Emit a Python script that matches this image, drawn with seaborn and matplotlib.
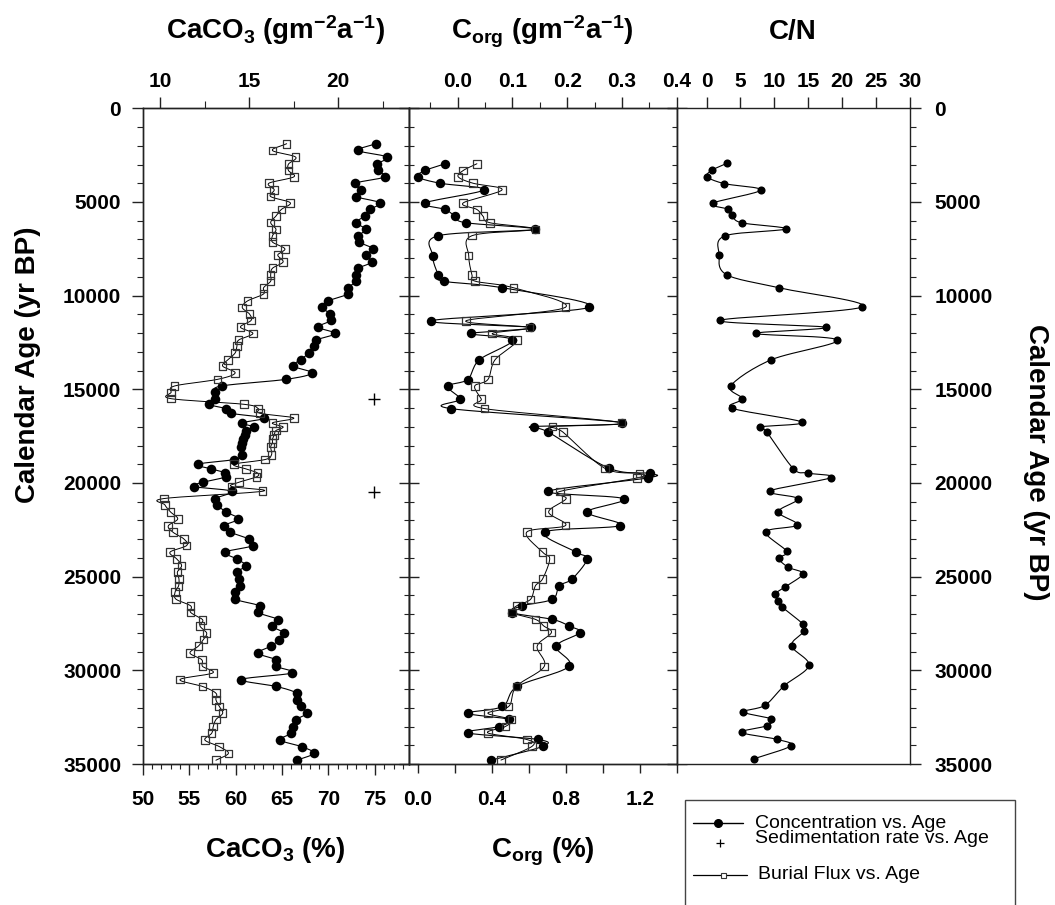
import numpy as np
import pandas as pd
import matplotlib
matplotlib.use("Agg")
import matplotlib.pyplot as plt
import seaborn as sns
from matplotlib.ticker import FixedLocator, MultipleLocator, FormatStrFormatter
from matplotlib.lines import Line2D
from matplotlib.patches import Rectangle

# ==============================
# DATA
# ==============================

# CaCO3 core samples: age (yr BP), concentration (%), burial flux (g m-2 a-1)
caco3_age = [1890, 2250, 2600, 2980, 3320, 3660, 4000, 4350, 4710, 5040,
             5400, 5750, 6100, 6460, 6810, 7140, 7500, 7830, 8200, 8540,
             8900, 9230, 9580, 9910, 10280, 10630, 10970, 11320, 11680, 12020,
             12370, 12700, 13060, 13420, 13760, 14130, 14470, 14820, 15160, 15500,
             15800, 16030, 16280, 16530, 16790, 17010, 17200, 17430, 17650, 17860,
             18080, 18490, 18750, 19000, 19250, 19460, 19670, 19960, 20190, 20440,
             20830, 21170, 21550, 21920, 22290, 22620, 22990, 23340, 23690, 24050,
             24410, 24760, 25120, 25490, 25830, 26200, 26560, 26910, 27300, 27630,
             28010, 28360, 28710, 29080, 29430, 29790, 30140, 30490, 30860, 31220,
             31570, 31930, 32290, 32630, 33000, 33360, 33720, 34070, 34430, 34800]
caco3_pct = [75.1, 73.2, 76.3, 75.2, 75.3, 76.1, 72.9, 73.5, 73.0, 75.5,
             74.5, 73.9, 73.0, 74.0, 73.2, 73.3, 74.8, 74.0, 74.7, 73.2,
             73.0, 73.0, 72.1, 72.1, 70.0, 69.3, 70.2, 70.3, 68.9, 70.7,
             68.7, 68.4, 67.9, 67.0, 66.2, 68.2, 65.4, 58.5, 57.8, 57.8,
             57.1, 59.0, 59.5, 63.1, 60.7, 62.0, 61.1, 61.0, 60.8, 60.7,
             60.6, 60.7, 59.8, 55.9, 57.4, 58.9, 59.0, 56.5, 55.5, 59.6,
             57.8, 58.0, 59.0, 60.3, 58.7, 59.4, 61.4, 61.9, 58.9, 60.1,
             61.1, 60.1, 60.4, 60.5, 59.9, 59.9, 62.6, 62.4, 64.6, 63.9,
             65.2, 64.7, 63.8, 62.4, 64.3, 64.4, 66.1, 60.6, 64.4, 66.6,
             66.6, 67.0, 67.7, 66.5, 66.2, 66.0, 64.8, 67.1, 68.4, 66.6]
caco3_flux = [17.1, 16.3, 17.6, 17.2, 17.2, 17.5, 16.1, 16.4, 16.2, 17.3,
              16.8, 16.5, 16.2, 16.5, 16.3, 16.3, 17.0, 16.6, 16.9, 16.3,
              16.2, 16.2, 15.8, 15.8, 14.9, 14.6, 15.0, 15.1, 14.5, 15.2,
              14.4, 14.3, 14.2, 13.8, 13.5, 14.2, 13.2, 10.8, 10.6, 10.6,
              14.7, 15.5, 15.6, 17.5, 16.3, 16.9, 16.5, 16.4, 16.3, 16.3,
              16.2, 16.25, 15.88, 14.14, 14.81, 15.45, 15.41, 14.42, 14.0, 15.75,
              10.2, 10.25, 10.57, 10.97, 10.44, 10.69, 11.32, 11.47, 10.54, 10.91,
              11.19, 10.95, 11.04, 11.02, 10.82, 10.87, 11.7, 11.7, 12.37, 12.22,
              12.6, 12.41, 12.13, 11.66, 12.32, 12.37, 12.94, 11.1, 12.37, 13.12,
              13.12, 13.31, 13.5, 13.12, 12.97, 12.88, 12.5, 13.31, 13.82, 13.12]

# Sedimentation rate change points
sed_age = [15500, 20500]
sed_rate = [22.0, 22.0]

# Organic carbon: age, concentration (%), burial flux (g m-2 a-1)
corg_age = [2960, 3320, 3660, 4000, 4350, 5050, 5400, 5750, 6110, 6460,
            6800, 7860, 8890, 9230, 9580, 10620, 11340, 11700, 12020, 12370,
            13430, 14480, 14830, 15520, 16030, 16780, 16990, 17280, 19220, 19490,
            19730, 20450, 20840, 21550, 22270, 22620, 23690, 24050, 25120, 25480,
            26210, 26550, 26920, 27280, 27630, 27990, 28720, 29790, 30860, 31930,
            32290, 32620, 33000, 33340, 33690, 34050, 34790]
corg_pct = [0.148, 0.040, 0.000, 0.120, 0.358, 0.039, 0.148, 0.200, 0.260, 0.632,
            0.111, 0.080, 0.111, 0.139, 0.457, 0.928, 0.071, 0.614, 0.290, 0.511,
            0.332, 0.269, 0.161, 0.229, 0.179, 1.104, 0.628, 0.705, 1.036, 1.253,
            1.244, 0.705, 1.113, 0.916, 1.095, 0.687, 0.856, 0.916, 0.835, 0.766,
            0.727, 0.565, 0.511, 0.727, 0.817, 0.876, 0.748, 0.817, 0.538, 0.457,
            0.269, 0.493, 0.439, 0.269, 0.650, 0.678, 0.398]
corg_flux = [0.035, 0.010, 0.001, 0.028, 0.081, 0.010, 0.035, 0.046, 0.059, 0.142,
             0.026, 0.020, 0.026, 0.032, 0.102, 0.197, 0.015, 0.131, 0.063, 0.108,
             0.068, 0.055, 0.031, 0.043, 0.049, 0.299, 0.173, 0.192, 0.269, 0.332,
             0.328, 0.187, 0.198, 0.166, 0.197, 0.126, 0.155, 0.168, 0.155, 0.142,
             0.133, 0.108, 0.099, 0.142, 0.157, 0.171, 0.145, 0.158, 0.107, 0.093,
             0.055, 0.098, 0.087, 0.055, 0.126, 0.136, 0.079]

# C/N ratio
cn_age = [2930, 3300, 3650, 4020, 4370, 5070, 5390, 5720, 6110, 6440,
          6810, 7810, 8880, 9580, 10600, 11320, 11690, 12020, 12370, 13430,
          14810, 15500, 16010, 16750, 17010, 17270, 19230, 19470, 19710, 20430,
          20840, 21540, 22240, 22610, 23650, 24020, 24500, 24850, 25550, 25940,
          26290, 26620, 27550, 27920, 28690, 29730, 30820, 31870, 32220, 32590,
          32960, 33310, 33680, 34030, 34720]
cn_ratio = [3.04, 0.83, 0.09, 2.60, 7.96, 0.88, 3.19, 3.78, 5.16, 11.65,
            2.70, 1.86, 2.95, 10.66, 22.95, 1.96, 17.55, 7.27, 19.27, 9.48,
            3.58, 5.26, 3.78, 14.06, 7.86, 8.85, 12.78, 14.89, 18.38, 9.34,
            13.42, 10.57, 13.37, 8.75, 11.80, 10.66, 12.04, 14.20, 11.55, 10.07,
            10.57, 11.15, 14.25, 14.35, 12.53, 15.09, 11.45, 8.60, 5.40, 9.48,
            8.85, 5.16, 10.32, 12.43, 7.03]

caco3 = pd.DataFrame({"age": caco3_age, "pct": caco3_pct, "flux": caco3_flux})
corg = pd.DataFrame({"age": corg_age, "pct": corg_pct, "flux": corg_flux})
cn = pd.DataFrame({"age": cn_age, "ratio": cn_ratio})
sed = pd.DataFrame({"age": sed_age, "rate": sed_rate})

# ==============================
# STYLE
# ==============================

sns.set_theme(style="ticks")
plt.rcParams["font.family"] = ["Liberation Sans", "DejaVu Sans"]
plt.rcParams["font.weight"] = "bold"
plt.rcParams["mathtext.default"] = "regular"
plt.rcParams["text.color"] = "black"
plt.rcParams["axes.edgecolor"] = "#222222"
plt.rcParams["axes.linewidth"] = 1.0
plt.rcParams["xtick.color"] = "#222222"
plt.rcParams["ytick.color"] = "#222222"
plt.rcParams["xtick.labelcolor"] = "black"
plt.rcParams["ytick.labelcolor"] = "black"

W, H = 1055, 905
TICK_FS = 15
TITLE_FS = 20

fig = plt.figure(figsize=(W / 100, H / 100), dpi=100)


def rect(x0, x1, y0=108.3, y1=764.0):
    return [x0 / W, 1 - y1 / H, (x1 - x0) / W, (y1 - y0) / H]


ax1 = fig.add_axes(rect(142.7, 409.3))
ax2 = fig.add_axes(rect(409.3, 676.7))
ax3 = fig.add_axes(rect(676.7, 910.1))
ax1t = ax1.twiny()
ax2t = ax2.twiny()


def set_limits():
    for a in (ax1, ax2, ax3):
        a.set_ylim(35000, 0)
    ax1.set_xlim(50, 78.7)
    ax1t.set_xlim(9, 24)
    ax2.set_xlim(-0.046, 1.4)
    ax2t.set_xlim(-0.0885, 0.4)
    ax3.set_xlim(-4.4, 30)


set_limits()


# spline curve through the points (drawn in screen space, like the original)
def spline(ax, xs, ys, n=14):
    pts = ax.transData.transform(np.column_stack([xs, ys]))
    p = np.vstack([2 * pts[0] - pts[1], pts, 2 * pts[-1] - pts[-2]])
    t = np.linspace(0, 1, n, endpoint=False)[:, None]
    segs = []
    for i in range(1, len(p) - 2):
        p0, p1, p2, p3 = p[i - 1], p[i], p[i + 1], p[i + 2]
        segs.append(0.5 * (2 * p1 + (p2 - p0) * t
                           + (2 * p0 - 5 * p1 + 4 * p2 - p3) * t ** 2
                           + (3 * p1 - p0 - 3 * p2 + p3) * t ** 3))
    segs.append(pts[-1][None, :])
    return ax.transData.inverted().transform(np.vstack(segs))


def draw_series(ax, df, col, filled, size, lw=0.8):
    c = spline(ax, df[col].values, df["age"].values)
    ax.plot(c[:, 0], c[:, 1], color="black", lw=lw, zorder=2)
    if filled:
        sns.scatterplot(data=df, x=col, y="age", ax=ax, marker="o", s=size,
                        color="black", edgecolor="black", linewidth=0, zorder=3)
    else:
        sns.scatterplot(data=df, x=col, y="age", ax=ax, marker="s", s=size,
                        facecolor="none", edgecolor="#333333", linewidth=0.9, zorder=3)


# ==============================
# PANEL 1: CaCO3
# ==============================
draw_series(ax1, caco3, "pct", True, 48)
draw_series(ax1t, caco3, "flux", False, 30, lw=0.7)
sns.scatterplot(data=sed, x="rate", y="age", ax=ax1t, marker="+", s=70,
                color="black", linewidth=1.0, zorder=3)

# ==============================
# PANEL 2: Corg
# ==============================
draw_series(ax2, corg, "pct", True, 46)
draw_series(ax2t, corg, "flux", False, 30, lw=0.7)

# ==============================
# PANEL 3: C/N
# ==============================
draw_series(ax3, cn, "ratio", True, 34)

# restore limits after seaborn
set_limits()
for a in (ax1, ax2, ax3, ax1t, ax2t):
    a.set_xlabel("")
    a.set_ylabel("")

# ==============================
# TICKS
# ==============================
yfmt = FormatStrFormatter("%d")

# panel 1
ax1.xaxis.set_major_locator(MultipleLocator(5))
ax1.xaxis.set_minor_locator(MultipleLocator(1))
ax1.tick_params(axis="x", which="major", direction="out", length=8, width=1,
                labelsize=TICK_FS, pad=11, top=False)
ax1.tick_params(axis="x", which="minor", direction="out", length=3.8, width=0.8, top=False)
ax1.yaxis.set_major_locator(MultipleLocator(5000))
ax1.yaxis.set_minor_locator(MultipleLocator(1000))
ax1.yaxis.set_major_formatter(yfmt)
ax1.tick_params(axis="y", which="major", direction="out", length=8, width=1,
                labelsize=TICK_FS, pad=7.5, left=True, right=False)
ax1.tick_params(axis="y", which="minor", direction="out", length=4, width=0.8,
                left=True, right=False)

ax1t.xaxis.set_major_locator(FixedLocator([10, 15, 20]))
ax1t.xaxis.set_minor_locator(FixedLocator([12.5, 17.5, 22.5]))
ax1t.tick_params(axis="x", which="major", direction="out", length=8, width=1,
                 labelsize=TICK_FS, pad=4.5)
ax1t.tick_params(axis="x", which="minor", direction="out", length=4.8, width=0.8)

# panel 2
ax2.xaxis.set_major_locator(FixedLocator([0.0, 0.4, 0.8, 1.2]))
ax2.xaxis.set_minor_locator(FixedLocator([0.2, 0.6, 1.0, 1.4]))
ax2.xaxis.set_major_formatter(FormatStrFormatter("%.1f"))
ax2.tick_params(axis="x", which="both", direction="out", length=6.5, width=1,
                labelsize=TICK_FS, pad=12.5, top=False)
ax2.yaxis.set_major_locator(MultipleLocator(5000))
ax2.yaxis.set_minor_locator(MultipleLocator(1000))
ax2.tick_params(axis="y", which="major", direction="inout", length=14.4, width=1,
                left=True, right=True, labelleft=False, labelright=False)
ax2.tick_params(axis="y", which="minor", direction="inout", length=7.2, width=0.8,
                left=True, right=True)

ax2t.xaxis.set_major_locator(FixedLocator([0.0, 0.1, 0.2, 0.3, 0.4]))
ax2t.xaxis.set_minor_locator(FixedLocator([-0.05, 0.05, 0.15, 0.25, 0.35]))
ax2t.xaxis.set_major_formatter(FormatStrFormatter("%.1f"))
ax2t.tick_params(axis="x", which="major", direction="out", length=8, width=1,
                 labelsize=TICK_FS, pad=4.5)
ax2t.tick_params(axis="x", which="minor", direction="out", length=4.3, width=0.8)

# panel 3
ax3.xaxis.tick_top()
ax3.xaxis.set_major_locator(FixedLocator([0, 5, 10, 15, 20, 25, 30]))
ax3.tick_params(axis="x", which="major", direction="out", length=8, width=1,
                labelsize=TICK_FS, pad=4.5, bottom=False, labelbottom=False)
ax3.yaxis.set_major_locator(MultipleLocator(5000))
ax3.yaxis.set_minor_locator(MultipleLocator(1000))
ax3.yaxis.set_major_formatter(yfmt)
ax3.tick_params(axis="y", which="major", direction="out", length=8, width=1,
                labelsize=TICK_FS, pad=9.5, left=False, right=True,
                labelleft=False, labelright=True)
ax3.tick_params(axis="y", which="minor", direction="out", length=4, width=0.8,
                left=False, right=True)

# ==============================
# AXIS TITLES
# ==============================


def fx(x):
    return x / W


def fy(y):
    return 1 - y / H


fig.text(fx(276), fy(39), r"CaCO$_3$ (gm$^{-2}$a$^{-1}$)", ha="center",
         va="baseline", fontsize=TITLE_FS)
fig.text(fx(542), fy(39), r"C$_{org}$ (gm$^{-2}$a$^{-1}$)", ha="center",
         va="baseline", fontsize=TITLE_FS)
fig.text(fx(793), fy(39), "C/N", ha="center", va="baseline", fontsize=TITLE_FS)
fig.text(fx(275), fy(857), r"CaCO$_3$ (%)", ha="center", va="baseline",
         fontsize=TITLE_FS)
fig.text(fx(543), fy(857), r"C$_{org}$ (%)", ha="center", va="baseline",
         fontsize=TITLE_FS)
fig.text(fx(28), fy(365), "Calendar Age (yr BP)", rotation=90, ha="center",
         va="center", fontsize=TITLE_FS)
fig.text(fx(1036), fy(462), "Calendar Age (yr BP)", rotation=270, ha="center",
         va="center", fontsize=TITLE_FS)

# ==============================
# LEGEND BOX
# ==============================
fig.add_artist(Rectangle((fx(685), fy(915)), (1015 - 685) / W, (915 - 800) / H,
                         transform=fig.transFigure, fill=False, lw=1.0,
                         ec="#444444", clip_on=False))
fig.add_artist(Line2D([fx(693), fx(743)], [fy(823), fy(823)], color="black",
                      lw=1.0, transform=fig.transFigure))
fig.add_artist(Line2D([fx(718)], [fy(823)], marker="o", ms=5.5, color="black",
                      transform=fig.transFigure))
fig.add_artist(Line2D([fx(720)], [fy(843)], marker="+", ms=6, mew=0.9,
                      color="black", transform=fig.transFigure))
fig.add_artist(Line2D([fx(693), fx(747)], [fy(875), fy(875)], color="black",
                      lw=0.9, transform=fig.transFigure))
fig.add_artist(Line2D([fx(723)], [fy(875)], marker="s", ms=3.6, mfc="white",
                      mec="#333333", mew=0.8, transform=fig.transFigure))
leg_kw = dict(fontsize=14, fontweight="normal", va="center", ha="left")
fig.text(fx(755), fy(823), "Concentration vs. Age", **leg_kw)
fig.text(fx(755), fy(838.5), "Sedimentation rate vs. Age", **leg_kw)
fig.text(fx(758), fy(874.5), "Burial Flux vs. Age", **leg_kw)

fig.savefig("out.png", dpi=100)
